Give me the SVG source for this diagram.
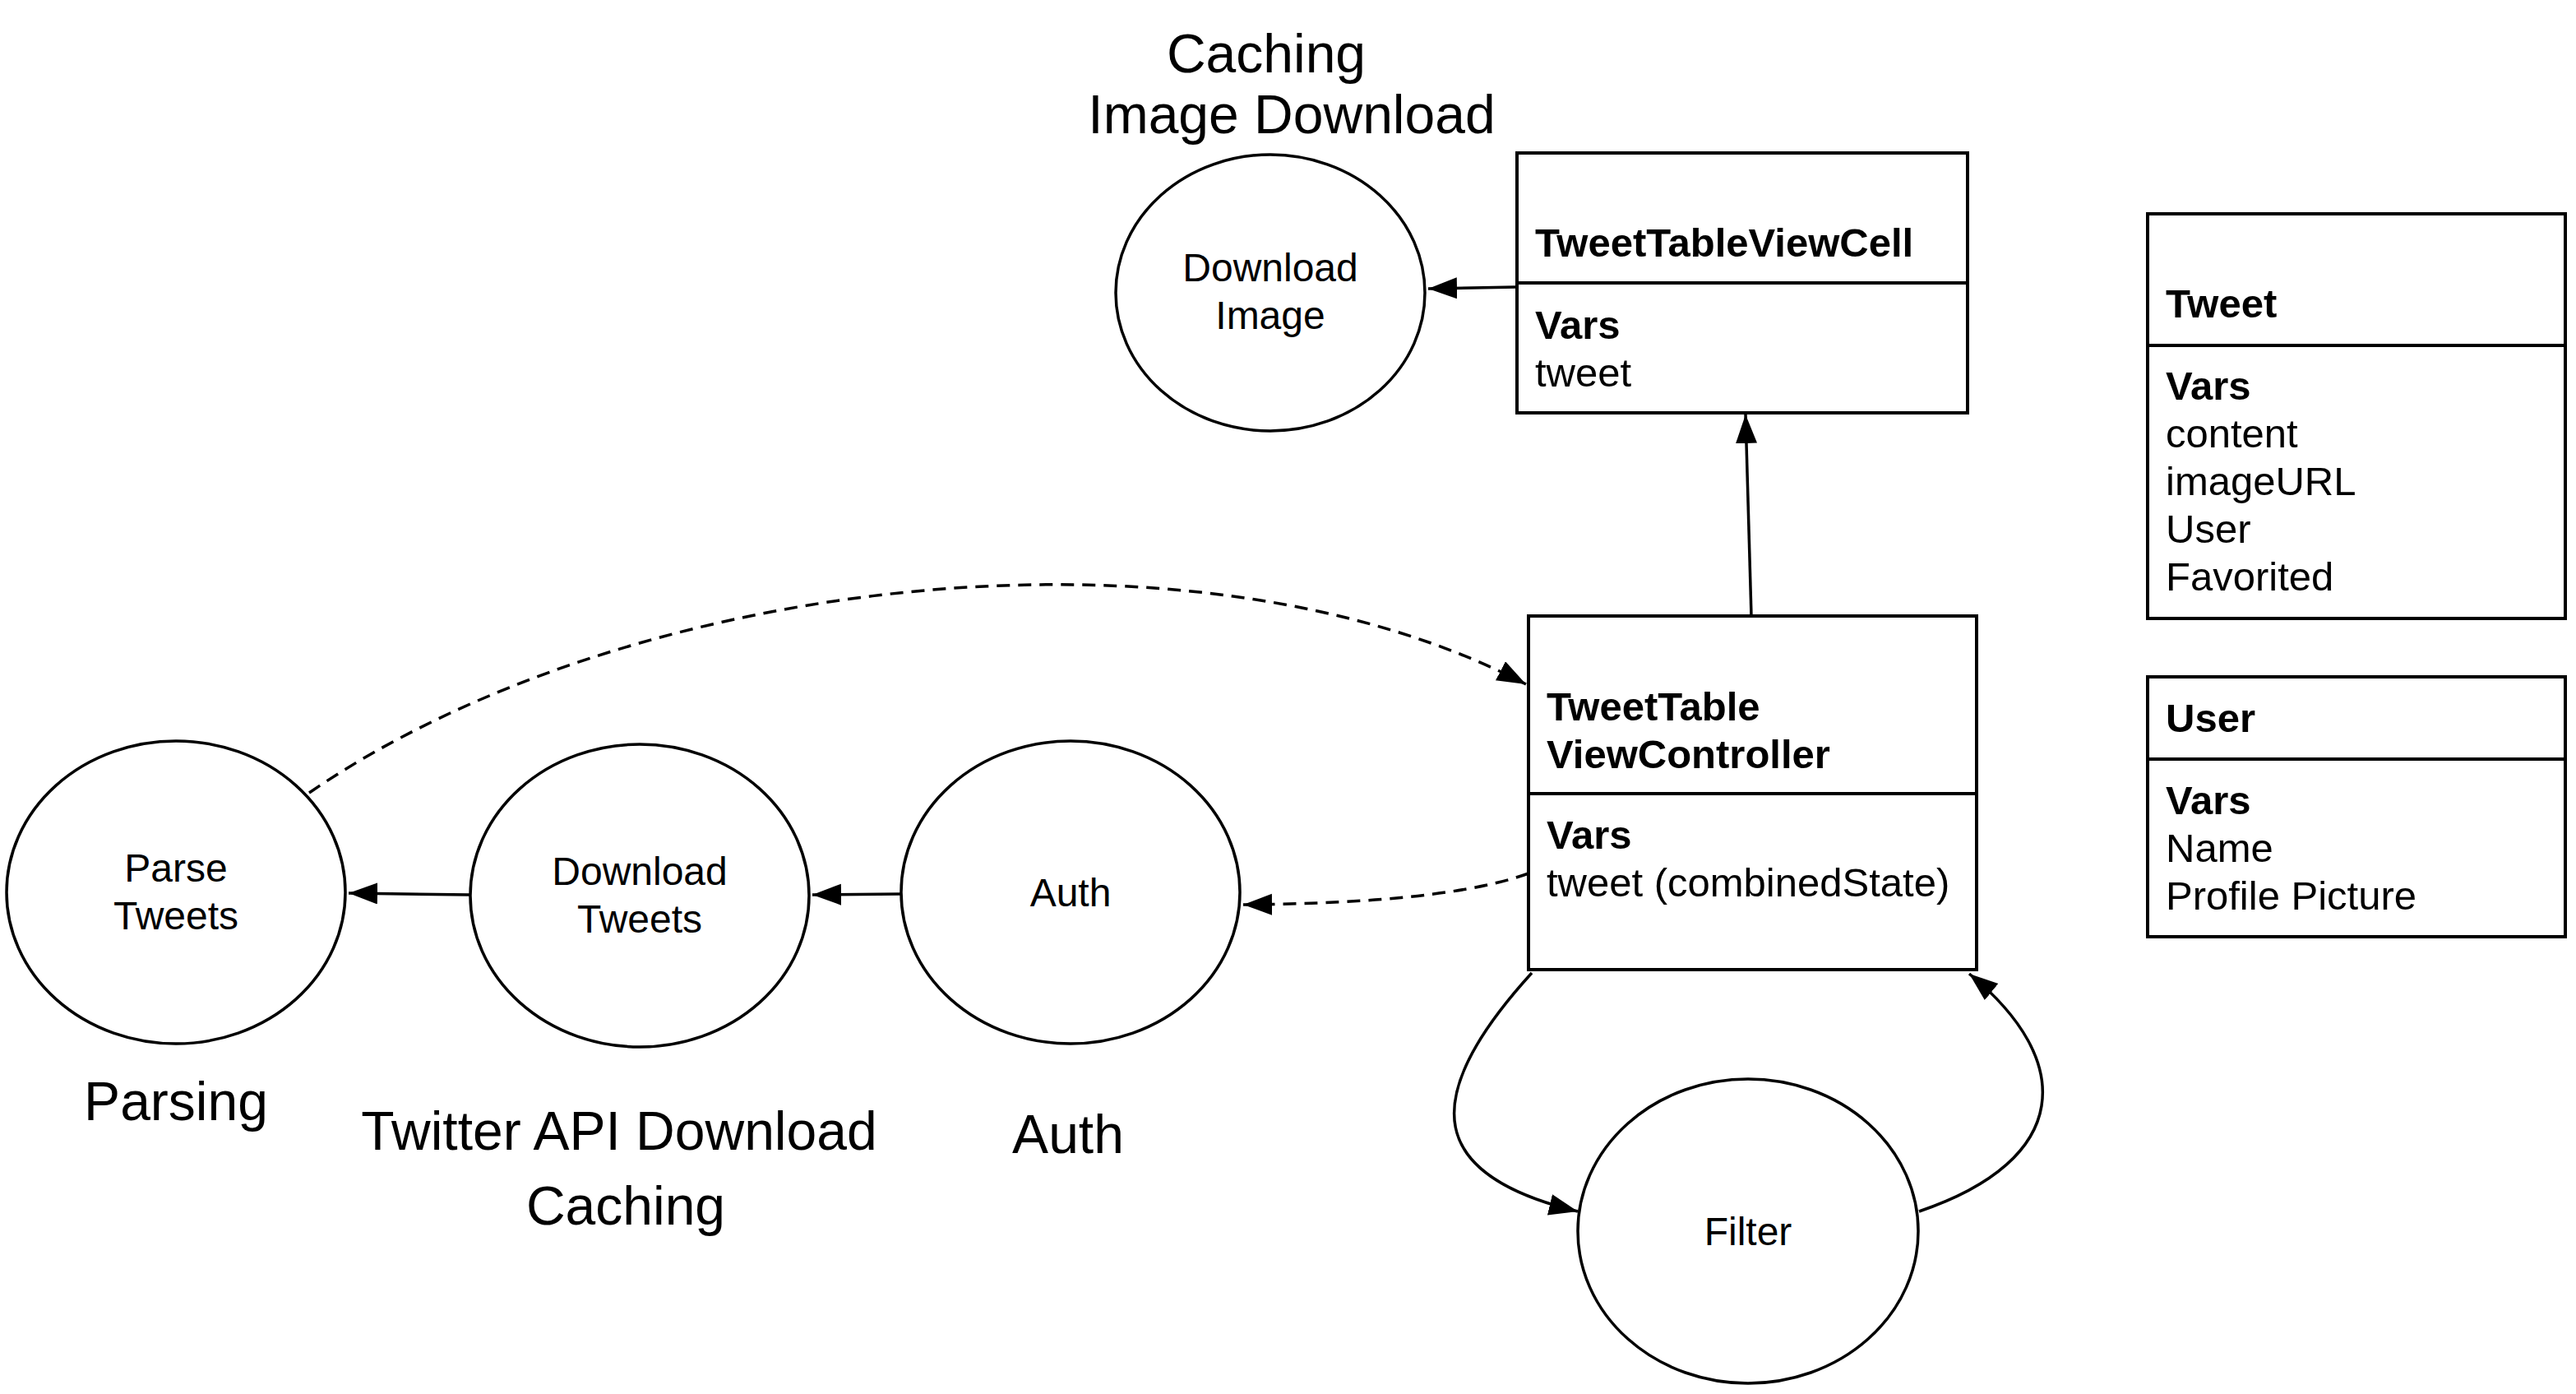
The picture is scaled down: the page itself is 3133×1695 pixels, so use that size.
<svg xmlns="http://www.w3.org/2000/svg" width="3133" height="1695" viewBox="0 0 3133 1695">
<style>
  .box { fill: #fff; stroke: #000; stroke-width: 4; }
  .div { stroke: #000; stroke-width: 4; }
  .ell { fill: #fff; stroke: #000; stroke-width: 3.5; }
  .t { font-family: "Liberation Sans", Arial, Helvetica, sans-serif; fill: #000; }
  .b { font-weight: bold; font-size: 49px; }
  .r { font-size: 49px; }
  .e { font-size: 48px; text-anchor: middle; }
  .big { font-size: 66px; text-anchor: middle; }
  .con { fill: none; stroke: #000; stroke-width: 3.5; marker-end: url(#arrow); }
  .dash { stroke-dasharray: 16 10; }
</style>
<defs>
  <marker id="arrow" markerUnits="userSpaceOnUse" markerWidth="38" markerHeight="28" refX="35" refY="13" orient="auto">
    <path d="M0,0 L35,13 L0,26 z" fill="#000"/>
  </marker>
</defs>
<rect width="3133" height="1695" fill="#fff"/>

<g id="labels">
  <text class="t big" x="1540" y="88">Caching</text>
  <text class="t big" x="1571" y="162">Image Download</text>
  <text class="t big" x="214" y="1362">Parsing</text>
  <text class="t big" x="753" y="1398">Twitter API Download</text>
  <text class="t big" x="761" y="1489">Caching</text>
  <text class="t big" x="1299" y="1402">Auth</text>
</g>

<g id="connectors">
  <path class="con" d="M1844,349 L1737,351"/>
  <path class="con" d="M2130,749 L2123,504"/>
  <path class="con" d="M572,1088 L424,1086"/>
  <path class="con" d="M1096,1087 L988,1088"/>
  <path class="con dash" d="M1859,1062 Q1760,1098 1512,1100"/>
  <path class="con dash" d="M376,964 C760,700 1450,620 1856,832"/>
  <path class="con" d="M1863,1183 C1720,1340 1740,1430 1919,1473"/>
  <path class="con" d="M2334,1473 C2520,1410 2525,1290 2395,1184"/>
</g>

<g id="download-image">
  <ellipse class="ell" cx="1545" cy="356" rx="188" ry="168"/>
  <text class="t e" x="1545" y="342">Download</text>
  <text class="t e" x="1545" y="400">Image</text>
</g>

<g id="tweet-table-view-cell">
  <rect class="box" x="1845" y="186" width="548" height="316"/>
  <line class="div" x1="1845" y1="344" x2="2393" y2="344"/>
  <text class="t b" x="1867" y="312">TweetTableViewCell</text>
  <text class="t b" x="1867" y="412">Vars</text>
  <text class="t r" x="1867" y="470">tweet</text>
</g>

<g id="tweet">
  <rect class="box" x="2612" y="260" width="508" height="492"/>
  <line class="div" x1="2612" y1="420" x2="3120" y2="420"/>
  <text class="t b" x="2634" y="386">Tweet</text>
  <text class="t b" x="2634" y="486">Vars</text>
  <text class="t r" x="2634" y="544">content</text>
  <text class="t r" x="2634" y="602">imageURL</text>
  <text class="t r" x="2634" y="660">User</text>
  <text class="t r" x="2634" y="718">Favorited</text>
</g>

<g id="user">
  <rect class="box" x="2612" y="823" width="508" height="316"/>
  <line class="div" x1="2612" y1="923" x2="3120" y2="923"/>
  <text class="t b" x="2634" y="890">User</text>
  <text class="t b" x="2634" y="990">Vars</text>
  <text class="t r" x="2634" y="1048">Name</text>
  <text class="t r" x="2634" y="1106">Profile Picture</text>
</g>

<g id="tweet-table-view-controller">
  <rect class="box" x="1859" y="749" width="545" height="430"/>
  <line class="div" x1="1859" y1="965" x2="2404" y2="965"/>
  <text class="t b" x="1881" y="876">TweetTable</text>
  <text class="t b" x="1881" y="934">ViewController</text>
  <text class="t b" x="1881" y="1032">Vars</text>
  <text class="t r" x="1881" y="1090">tweet (combinedState)</text>
</g>

<g id="parse-tweets">
  <ellipse class="ell" cx="214" cy="1085" rx="206" ry="184"/>
  <text class="t e" x="214" y="1072">Parse</text>
  <text class="t e" x="214" y="1130">Tweets</text>
</g>

<g id="download-tweets">
  <ellipse class="ell" cx="778" cy="1089" rx="206" ry="184"/>
  <text class="t e" x="778" y="1076">Download</text>
  <text class="t e" x="778" y="1134">Tweets</text>
</g>

<g id="auth">
  <ellipse class="ell" cx="1302" cy="1085" rx="206" ry="184"/>
  <text class="t e" x="1302" y="1102">Auth</text>
</g>

<g id="filter">
  <ellipse class="ell" cx="2126" cy="1497" rx="207" ry="185"/>
  <text class="t e" x="2126" y="1514">Filter</text>
</g>
</svg>
